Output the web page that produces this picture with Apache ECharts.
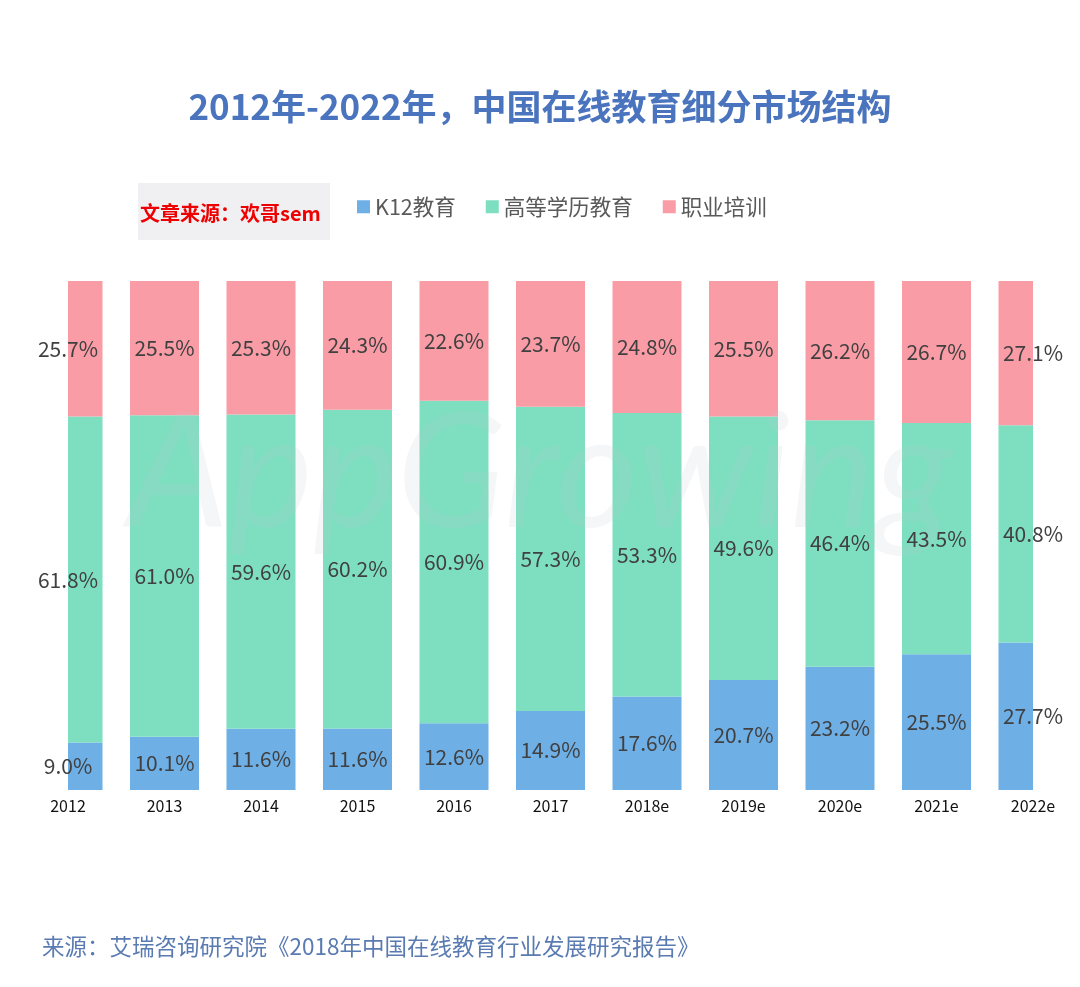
<!DOCTYPE html>
<html><head><meta charset="utf-8">
<script src="https://cdn.jsdelivr.net/npm/echarts@6/dist/echarts.min.js"></script>
<style>html,body{margin:0;padding:0;background:#fff}#c{width:1080px;height:987px}</style>
</head><body><div id="c"></div>
<script>
const categories = ['2012','2013','2014','2015','2016','2017','2018e','2019e','2020e','2021e','2022e'];
const k12 = [9.0,10.1,11.6,11.6,12.6,14.9,17.6,20.7,23.2,25.5,27.7];
const higher = [61.8,61.0,59.6,60.2,60.9,57.3,53.3,49.6,46.4,43.5,40.8];
const vocational = [25.7,25.5,25.3,24.3,22.6,23.7,24.8,25.5,26.2,26.7,27.1];
const seriesNames = ['K12教育','高等学历教育','职业培训'];
const colors = ['#6eafe6','#7ddfc0','#f99ca6'];

const raw = [k12, higher, vocational];
const totals = categories.map((_, i) => k12[i] + higher[i] + vocational[i]);
const norm = raw.map(arr => arr.map((v, i) => v / totals[i] * 100));
const FONT = '"Noto Sans CJK SC","Noto Sans",sans-serif';

const series = [];
raw.forEach((arr, s) => {
  series.push({
    name: seriesNames[s], type: 'bar', stack: 'vis', barWidth: 69, z: 2,
    itemStyle: {color: colors[s]}, data: norm[s], silent: true
  });
});
raw.forEach((arr, s) => {
  series.push({
    name: seriesNames[s] + '_label', type: 'bar', stack: 'lab', barWidth: 69, barGap: '-100%', z: 6,
    itemStyle: {color: 'rgba(0,0,0,0)'}, data: norm[s], silent: true,
    label: {show: true, position: 'inside', fontSize: 21, color: '#404040', fontFamily: FONT,
      formatter: p => arr[p.dataIndex].toFixed(1) + '%'}
  });
});

const chart = echarts.init(document.getElementById('c'), null, {renderer: 'canvas'});
chart.setOption({
  animation: false,
  backgroundColor: '#ffffff',
  title: {
    text: '2012年-2022年，中国在线教育细分市场结构', left: 'center', top: 84,
    textStyle: {fontSize: 35, fontWeight: 'bold', color: '#4a74bd', fontFamily: FONT}
  },
  legend: {
    data: seriesNames, left: 352, top: 191, itemWidth: 13, itemHeight: 13, itemGap: 30, icon: 'rect',
    textStyle: {fontSize: 21.5, color: '#595959', fontFamily: FONT}
  },
  grid: {left: 68, right: 47, top: 281, bottom: 197, containLabel: false},
  xAxis: {
    type: 'category', data: categories, boundaryGap: false,
    axisLine: {show: false}, axisTick: {show: false},
    axisLabel: {fontSize: 16, color: '#111', margin: 8, fontFamily: FONT}
  },
  yAxis: {type: 'value', min: 0, max: 100, show: false, splitLine: {show: false}},
  graphic: [
    {type: 'rect', shape: {x: 0, y: 270, width: 68, height: 530}, style: {fill: '#ffffff'}, z: 4, silent: true},
    {type: 'rect', shape: {x: 1033, y: 270, width: 47, height: 530}, style: {fill: '#ffffff'}, z: 4, silent: true},
    {type: 'text', left: 'center', top: 395, z: 5, silent: true,
      style: {text: 'AppGrowing', fontSize: 160, fontStyle: 'italic', fontFamily: 'Lato, sans-serif', fill: 'rgba(190,200,205,0.16)'}},
    {type: 'rect', shape: {x: 138, y: 183, width: 192, height: 57}, style: {fill: '#f0eff2'}, z: 10},
    {type: 'text', x: 140, y: 213, z: 11,
      style: {text: '文章来源：欢哥sem', fontSize: 20, fontWeight: 'bold', fill: '#ee0000', fontFamily: FONT, verticalAlign: 'middle'}},
    {type: 'text', x: 42, y: 946, z: 11,
      style: {text: '来源：艾瑞咨询研究院《2018年中国在线教育行业发展研究报告》', fontSize: 22.5, fill: '#5a7bb2', fontFamily: FONT, verticalAlign: 'middle'}}
  ],
  series: series
});
</script></body></html>
